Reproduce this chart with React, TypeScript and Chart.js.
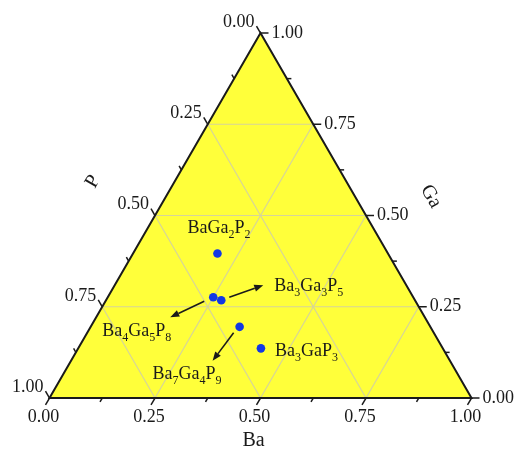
import React, { useEffect, useRef } from "react";
import { Chart, registerables } from "chart.js";

Chart.register(...registerables);

// Ba–Ga–P ternary phase diagram: compound compositions (mole fractions)
const compounds = ["BaGa2P2", "Ba4Ga5P8", "Ba3Ga3P5", "Ba7Ga4P9", "Ba3GaP3"];
const baFraction = [0.2, 0.25, 0.273, 0.353, 0.433];
const gaFraction = [0.396, 0.276, 0.268, 0.195, 0.136];

const tickValues = [0, 0.25, 0.5, 0.75, 1];
const tickLabels = ["0.00", "0.25", "0.50", "0.75", "1.00"];
const minorTickValues = [0.125, 0.375, 0.625, 0.875];
const gridValues = [0.25, 0.5, 0.75];
const axisTitles = { bottom: "Ba", right: "Ga", left: "P" };

// label placement relative to each marker (pixels): text origin, optional arrow
const labelLayout = [
  { dx: -30, dy: -20, arrow: null },
  { dx: -111, dy: 39, arrow: [-9, 4, -43, 20] },
  { dx: 53, dy: -9, arrow: [8, -3, 42, -15] },
  { dx: -87, dy: 52, arrow: [-6, 6, -27, 34] },
  { dx: 14, dy: 8, arrow: null },
];

const SERIF = "'Liberation Serif', 'Times New Roman', serif";
const INK = "#1a1a1a";

function drawFormula(ctx: CanvasRenderingContext2D, text: string, x: number, y: number) {
  const parts = [...text.matchAll(/([A-Z][a-z]?)(\d*)/g)];
  let cx = x;
  ctx.textAlign = "left";
  ctx.textBaseline = "alphabetic";
  for (const m of parts) {
    ctx.font = `18px ${SERIF}`;
    ctx.fillText(m[1], cx, y);
    cx += ctx.measureText(m[1]).width;
    if (m[2]) {
      ctx.font = `12px ${SERIF}`;
      ctx.fillText(m[2], cx, y + 5);
      cx += ctx.measureText(m[2]).width;
    }
  }
}

function drawArrow(ctx: CanvasRenderingContext2D, x1: number, y1: number, x2: number, y2: number) {
  const ang = Math.atan2(y2 - y1, x2 - x1);
  const len = 9;
  const half = 3.5;
  const bx = x2 - len * Math.cos(ang);
  const by = y2 - len * Math.sin(ang);
  ctx.beginPath();
  ctx.moveTo(x1, y1);
  ctx.lineTo(bx, by);
  ctx.lineWidth = 1.6;
  ctx.stroke();
  ctx.beginPath();
  ctx.moveTo(x2, y2);
  ctx.lineTo(bx - half * Math.sin(ang), by + half * Math.cos(ang));
  ctx.lineTo(bx + half * Math.sin(ang), by - half * Math.cos(ang));
  ctx.closePath();
  ctx.fill();
}

const ternaryPlugin = {
  id: "ternaryFrame",
  beforeDatasetsDraw(chart: any) {
    const ctx: CanvasRenderingContext2D = chart.ctx;
    const xs = chart.scales.x;
    const ys = chart.scales.y;
    const pt = (b: number, g: number) => ({
      x: xs.getPixelForValue(b + g / 2),
      y: ys.getPixelForValue(g),
    });
    ctx.save();
    const A = pt(0, 0), B = pt(1, 0), C = pt(0, 1);
    ctx.beginPath();
    ctx.moveTo(A.x, A.y);
    ctx.lineTo(B.x, B.y);
    ctx.lineTo(C.x, C.y);
    ctx.closePath();
    ctx.fillStyle = "#ffff3a";
    ctx.fill();

    ctx.strokeStyle = "#d6d49a";
    ctx.lineWidth = 1.2;
    for (const v of gridValues) {
      const segs = [
        [pt(0, v), pt(1 - v, v)],
        [pt(v, 0), pt(v, 1 - v)],
        [pt(1 - v, 0), pt(0, 1 - v)],
      ];
      for (const [p, q] of segs) {
        ctx.beginPath();
        ctx.moveTo(p.x, p.y);
        ctx.lineTo(q.x, q.y);
        ctx.stroke();
      }
    }
    ctx.restore();
  },
  afterDatasetsDraw(chart: any) {
    const ctx: CanvasRenderingContext2D = chart.ctx;
    const xs = chart.scales.x;
    const ys = chart.scales.y;
    const pt = (b: number, g: number) => ({
      x: xs.getPixelForValue(b + g / 2),
      y: ys.getPixelForValue(g),
    });
    ctx.save();
    const A = pt(0, 0), B = pt(1, 0), C = pt(0, 1);
    ctx.strokeStyle = INK;
    ctx.fillStyle = INK;
    ctx.lineWidth = 2;
    ctx.lineJoin = "miter";
    ctx.beginPath();
    ctx.moveTo(A.x, A.y);
    ctx.lineTo(B.x, B.y);
    ctx.lineTo(C.x, C.y);
    ctx.closePath();
    ctx.stroke();

    const s = Math.sqrt(3) / 2;
    const axes = [
      { pos: (v: number) => pt(v, 0), dir: [-0.5, s] }, // Ba, bottom
      { pos: (v: number) => pt(1 - v, v), dir: [1, 0] }, // Ga, right
      { pos: (v: number) => pt(0, 1 - v), dir: [-0.5, -s] }, // P, left
    ];
    ctx.lineWidth = 1.5;
    axes.forEach((ax, k) => {
      const ticks = [
        ...tickValues.map((v) => ({ v, len: 8 })),
        ...minorTickValues.map((v) => ({ v, len: 4.5 })),
      ];
      for (const t of ticks) {
        const p = ax.pos(t.v);
        ctx.beginPath();
        ctx.moveTo(p.x, p.y);
        ctx.lineTo(p.x + ax.dir[0] * t.len, p.y + ax.dir[1] * t.len);
        ctx.stroke();
      }
      ctx.font = `18px ${SERIF}`;
      tickValues.forEach((v, i) => {
        const p = ax.pos(v);
        const ex = p.x + ax.dir[0] * 8;
        const ey = p.y + ax.dir[1] * 8;
        if (k === 0) {
          ctx.textAlign = "center";
          ctx.textBaseline = "top";
          ctx.fillText(tickLabels[i], ex - 2, ey + 3);
        } else if (k === 1) {
          ctx.textAlign = "left";
          ctx.textBaseline = "middle";
          ctx.fillText(tickLabels[i], ex + 3, ey);
        } else {
          ctx.textAlign = "right";
          ctx.textBaseline = "middle";
          ctx.fillText(tickLabels[i], ex - 2, ey - 4);
        }
      });
    });

    // axis titles
    ctx.font = `20px ${SERIF}`;
    ctx.textAlign = "center";
    ctx.textBaseline = "middle";
    const mid = pt(0.5, 0);
    ctx.fillText(axisTitles.bottom, mid.x - 7, mid.y + 43);
    const rMid = pt(0.5, 0.5);
    ctx.save();
    ctx.translate(rMid.x + 65, rMid.y - 19);
    ctx.rotate(Math.PI / 3);
    ctx.fillText(axisTitles.right, 0, 0);
    ctx.restore();
    const lMid = pt(0, 0.5);
    ctx.save();
    ctx.translate(lMid.x - 62, lMid.y - 34);
    ctx.rotate(-Math.PI / 3);
    ctx.fillText(axisTitles.left, 0, 0);
    ctx.restore();

    // compound labels and arrows
    const meta = chart.getDatasetMeta(0);
    compounds.forEach((name, i) => {
      const el = meta.data[i];
      const lay = labelLayout[i];
      drawFormula(ctx, name, el.x + lay.dx, el.y + lay.dy);
      if (lay.arrow) {
        const [a, b, c, d] = lay.arrow;
        drawArrow(ctx, el.x + a, el.y + b, el.x + c, el.y + d);
      }
    });
    ctx.restore();
  },
};

export default function App() {
  const canvasRef = useRef<HTMLCanvasElement | null>(null);

  useEffect(() => {
    const canvas = canvasRef.current;
    if (!canvas) return;
    const chart = new Chart(canvas, {
      type: "scatter",
      data: {
        datasets: [
          {
            label: "compounds",
            data: compounds.map((_, i) => ({
              x: baFraction[i] + gaFraction[i] / 2,
              y: gaFraction[i],
            })),
            backgroundColor: "#1238e4",
            borderWidth: 0,
            pointRadius: 4.3,
            pointHoverRadius: 4.3,
          },
        ],
      },
      options: {
        responsive: false,
        animation: false,
        devicePixelRatio: 1,
        layout: { padding: { left: 49.5, right: 51.5, top: 33, bottom: 58 } },
        scales: {
          x: { type: "linear", min: 0, max: 1, display: false },
          y: { type: "linear", min: 0, max: 1, display: false },
        },
        plugins: { legend: { display: false }, tooltip: { enabled: false } },
      },
      plugins: [ternaryPlugin],
    });
    return () => chart.destroy();
  }, []);

  return (
    <div style={{ position: "fixed", left: 0, top: 0, width: 523, height: 456, background: "#ffffff" }}>
      <canvas ref={canvasRef} width={523} height={456} style={{ display: "block" }} />
    </div>
  );
}
